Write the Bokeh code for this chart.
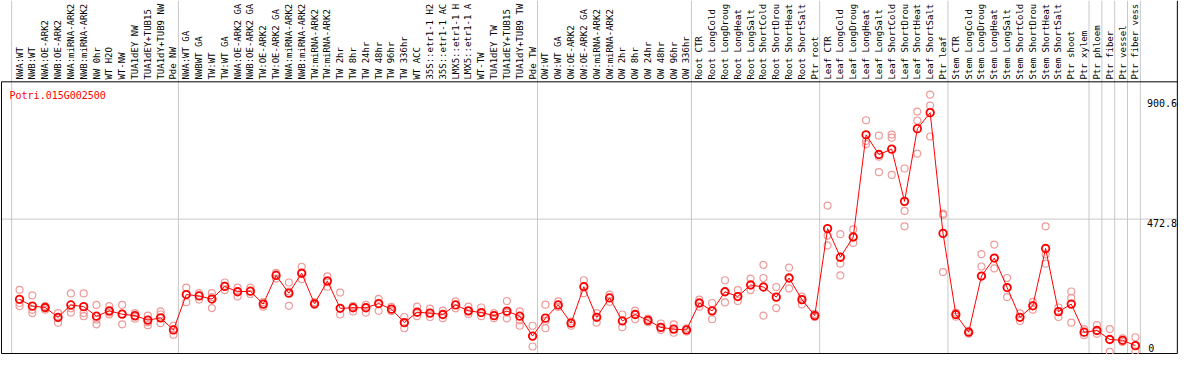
import math
from bokeh.plotting import figure
from bokeh.models import Range1d
from bokeh.core.properties import value
from bokeh.embed import file_html
from bokeh.resources import INLINE

gene = "Potri.015G002500"

labels = [
    "NWA:WT", "NWB:WT", "NWA:OE-ARK2", "NWB:OE-ARK2", "NWA:miRNA-ARK2", "NWB:miRNA-ARK2",
    "NW 0hr", "WT H2O", "WT-NW", "TUA1dEY NW", "TUA1dEY+TUB15", "TUA1dY+TUB9 NW", "Pde NW",
    "NWA:WT GA", "NWBWT GA", "TW:WT", "TW:WT GA", "NWA:OE-ARK2 GA", "NWB:OE-ARK2 GA",
    "TW:OE-ARK2", "TW:OE-ARK2 GA", "NWA:miRNA-ARK2", "NWB:miRNA-ARK2", "TW:miRNA-ARK2",
    "TW:miRNA-ARK2", "TW 2hr", "TW 8hr", "TW 24hr", "TW 48hr", "TW 96hr", "TW 336hr",
    "WT ACC", "35S::etr1-1 H2", "35S::etr1-1 AC", "LMX5::etr1-1 H", "LMX5::etr1-1 A",
    "WT-TW", "TUA1dEY TW", "TUA1dEY+TUB15", "TUA1dY+TUB9 TW", "Pde TW",
    "OW:WT", "OW:WT GA", "OW:OE-ARK2", "OW:OE-ARK2 GA", "OW:miRNA-ARK2", "OW:miRNA-ARK2",
    "OW 2hr", "OW 8hr", "OW 24hr", "OW 48hr", "OW 96hr", "OW 336hr",
    "Root CTR", "Root LongCold", "Root LongDroug", "Root LongHeat", "Root LongSalt",
    "Root ShortCold", "Root ShortDrou", "Root ShortHeat", "Root ShortSalt", "Ptr root",
    "Leaf CTR", "Leaf LongCold", "Leaf LongDroug", "Leaf LongHeat", "Leaf LongSalt",
    "Leaf ShortCold", "Leaf ShortDrou", "Leaf ShortHeat", "Leaf ShortSalt", "Ptr leaf",
    "Stem CTR", "Stem LongCold", "Stem LongDroug", "Stem LongHeat", "Stem LongSalt",
    "Stem ShortCold", "Stem ShortDrou", "Stem ShortHeat", "Stem ShortSalt", "Ptr shoot",
    "Ptr xylem", "Ptr phloem", "Ptr fiber", "Ptr vessel", "Ptr fiber vess",
]

means = [
    187, 163, 158, 123, 167, 161, 127, 146, 134, 129, 113, 121, 78,
    204, 199, 188, 233, 214, 216, 170, 272, 209, 280, 171, 252, 155, 157, 157, 172,
    152, 104, 141, 138, 133, 167, 146, 140, 129, 145, 127, 56,
    120, 167, 102, 232, 123, 192, 110, 133, 112, 87, 81, 78,
    174, 146, 214, 197, 238, 231, 195, 263, 186, 129,
    439, 337, 409, 773, 703, 722, 536, 795, 852, 422,
    133, 70, 270, 334, 229, 123, 164, 368, 143, 170, 70,
    76, 44, 41, 22,
]

replicates = [
    [221, 174, 163], [201, 150, 138], [163, 155, 150], [138, 104, 120], [208, 140, 155],
    [208, 138, 127], [167, 115, 98], [163, 133, 140], [167, 98, 136], [138, 118, 125],
    [129, 95, 105], [144, 133, 102], [93, 61, 80],
    [229, 177, 205], [209, 186, 200], [209, 156, 195], [247, 220, 235], [229, 197, 215],
    [229, 206, 216], [177, 161, 170], [281, 261, 275], [247, 164, 215], [303, 259, 280],
    [177, 167, 171], [269, 232, 255], [211, 133, 155], [163, 144, 157], [167, 140, 157],
    [189, 146, 172], [160, 145, 152], [124, 84, 104], [161, 127, 141], [154, 124, 138],
    [147, 120, 133], [180, 155, 167], [161, 135, 146], [158, 127, 140], [138, 120, 129],
    [181, 119, 140], [144, 112, 93], [93, 19, 56],
    [168, 84, 110], [180, 160, 167], [108, 93, 102], [255, 209, 232], [138, 104, 123],
    [204, 178, 192], [133, 88, 110], [147, 116, 133], [118, 105, 112], [101, 78, 87],
    [98, 68, 81], [84, 72, 78],
    [186, 161, 174], [174, 116, 146], [255, 176, 214], [220, 181, 197], [261, 220, 238],
    [310, 263, 129], [231, 156, 195], [300, 226, 263], [197, 169, 186], [135, 124, 129],
    [521, 414, 379], [419, 314, 272], [436, 388, 409], [825, 751, 740], [770, 695, 640],
    [774, 763, 630], [653, 502, 447], [856, 824, 706], [916, 877, 767], [492, 488, 284],
    [140, 125, 133], [75, 65, 70], [348, 304, 270], [382, 297, 334], [263, 195, 229],
    [137, 110, 123], [178, 150, 164], [447, 347, 314], [158, 124, 143], [215, 192, 104],
    [81, 59, 70], [95, 64, 76], [81, 0, 44], [48, 35, 41], [52, 2, 22],
]

# last category index of each group (separators drawn after these; -1 = before the first)
group_ends = [-1, 12, 40, 52, 62, 72, 83, 84, 85, 86, 87]

tick_values = [900.6, 472.8, 0]
tick_labels = ["900.6", "472.8", "0"]

W, H = 1178, 354
X0, X1 = -1.485, 90.36
Y0, Y1 = -9.5, 1251.5
PLOT_TOP = 961.8
PLOT_BOTTOM = -6.1
LEFT_EDGE, RIGHT_EDGE = -1.41, 90.27

p = figure(width=W, height=H, x_range=Range1d(X0, X1), y_range=Range1d(Y0, Y1),
           output_backend="svg", toolbar_location=None,
           x_axis_location=None, y_axis_location=None,
           min_border=0, outline_line_color=None,
           background_fill_color="white", border_fill_color="white")
p.grid.visible = False

GRAY = "#C8C8C8"
# horizontal grid line at middle tick
p.segment(x0=[LEFT_EDGE], x1=[RIGHT_EDGE], y0=[tick_values[1]], y1=[tick_values[1]],
          line_color=GRAY, line_width=1)
# group separators
sep_x = [g + 0.385 for g in group_ends]
p.segment(x0=sep_x, x1=sep_x, y0=[PLOT_BOTTOM] * len(sep_x), y1=[Y1] * len(sep_x),
          line_color=GRAY, line_width=1)

# frame lines
p.segment(x0=[LEFT_EDGE, LEFT_EDGE, LEFT_EDGE, RIGHT_EDGE],
          x1=[RIGHT_EDGE, RIGHT_EDGE, LEFT_EDGE, RIGHT_EDGE],
          y0=[PLOT_TOP, PLOT_BOTTOM, PLOT_BOTTOM, PLOT_BOTTOM],
          y1=[PLOT_TOP, PLOT_BOTTOM, PLOT_TOP, Y1],
          line_color="black", line_width=1)

idx = list(range(len(labels)))

# replicate points
rx, ry = [], []
for i, reps in enumerate(replicates):
    for v in reps:
        rx.append(i)
        ry.append(v)
p.scatter(rx, ry, marker="circle", size=7, fill_color=None,
          line_color="#EE9A9A", line_width=1.2)

# mean line and points
p.line(idx, means, line_color="red", line_width=1)
p.scatter(idx, means, marker="circle", size=7.5, fill_color=None,
          line_color="red", line_width=1.8)

# category labels (vertical)
p.text(x=idx, y=[PLOT_TOP + 8] * len(idx), text=labels, angle=math.pi / 2,
       text_font=value("DejaVu Sans Mono"), text_font_size="9px",
       text_align="left", text_baseline="middle", text_color="black")

# gene name
p.text(x=[-0.78], y=[934], text=[gene], text_font=value("DejaVu Sans Mono"),
       text_font_size="10px", text_align="left", text_baseline="top", text_color="red")

# tick labels on the right
p.text(x=[87.9, 87.9], y=tick_values[:2], text=tick_labels[:2],
       text_font=value("DejaVu Sans Mono"), text_font_size="10px",
       text_align="left", text_baseline="top", text_color="black")
p.text(x=[88.0], y=tick_values[2:], text=tick_labels[2:],
       text_font=value("DejaVu Sans Mono"), text_font_size="10px",
       text_align="left", text_baseline="bottom", text_color="black")

open("out.html", "w").write(file_html(p, INLINE))
